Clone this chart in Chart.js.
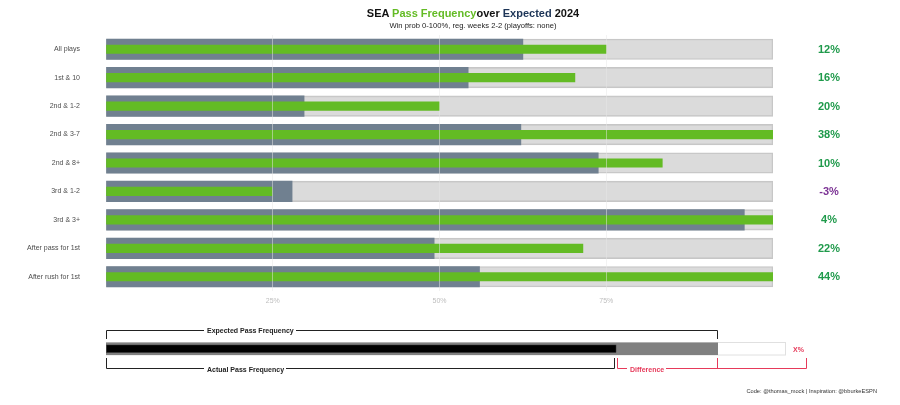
<!DOCTYPE html>
<html>
<head>
<meta charset="utf-8">
<script src="https://cdn.jsdelivr.net/npm/chart.js@4.4.1/dist/chart.umd.min.js"></script>
<style>
  html, body { margin:0; padding:0; background:#fff; }
  #wrap { position:relative; width:900px; height:405px; overflow:hidden; font-family:"Liberation Sans", Arial, sans-serif; }
  #c { position:absolute; left:0; top:0; }
  .title { position:absolute; left:473px; top:7px; transform:translateX(-50%); white-space:nowrap; font-size:11px; font-weight:bold; line-height:13px; color:#111; }
  .sub { position:absolute; left:473px; top:21px; transform:translateX(-50%); white-space:nowrap; font-size:7.6px; line-height:9px; color:#222; }
  .cap { position:absolute; right:23px; top:388px; white-space:nowrap; font-size:5.7px; line-height:7px; color:#333; }
  svg { position:absolute; left:0; top:0; pointer-events:none; }
</style>
</head>
<body>
<div id="wrap">
  <canvas id="c" width="900" height="405"></canvas>
  <div class="title">SEA <span style="color:#63bb24">Pass Frequency</span>over <span style="color:#1d3557">Expected</span> 2024</div>
  <div class="sub">Win prob 0-100%, reg. weeks 2-2 (playoffs: none)</div>
  <div class="cap">Code: @thomas_mock | Inspiration: @bburkeESPN</div>
  <svg width="900" height="405" font-family="Liberation Sans, Arial, sans-serif">
    <path d="M106.5,339 V330.5 H717.5 V339" fill="none" stroke="#222" stroke-width="1"/>
    <rect x="204" y="326" width="92" height="8" fill="#fff"/>
    <text x="207" y="332.5" font-size="7" font-weight="bold" fill="#222">Expected Pass Frequency</text>
    <rect x="106.5" y="342.5" width="679" height="12.5" fill="#fff" stroke="#e0e0e0" stroke-width="1"/>
    <rect x="106" y="342.5" width="612" height="12.5" fill="#808080"/>
    <rect x="106.5" y="345" width="509.5" height="7.5" fill="#000" stroke="#333" stroke-width="0.5"/>
    <path d="M106.5,358 V368.5 H614.5 V358" fill="none" stroke="#222" stroke-width="1"/>
    <rect x="204" y="365" width="82" height="8" fill="#fff"/>
    <text x="207" y="371.5" font-size="7" font-weight="bold" fill="#222">Actual Pass Frequency</text>
    <path d="M617.5,358 V368.5 H806.5 V358 M717.5,358 V368.5" fill="none" stroke="#e63a5a" stroke-width="1"/>
    <rect x="627" y="365" width="39" height="8" fill="#fff"/>
    <text x="630" y="371.5" font-size="7" font-weight="bold" fill="#e63a5a">Difference</text>
    <text x="793" y="351.5" font-size="7" font-weight="bold" fill="#e63a5a">X%</text>
  </svg>
</div>
<script>
const categories = ['All plays','1st & 10','2nd & 1-2','2nd & 3-7','2nd & 8+','3rd & 1-2','3rd & 3+','After pass for 1st','After rush for 1st'];
const expectedPass = [0.625, 0.543, 0.297, 0.622, 0.738, 0.279, 0.957, 0.492, 0.560];
const actualPass   = [0.750, 0.703, 0.500, 1.000, 0.834, 0.249, 1.000, 0.715, 1.000];
const fullScale    = [1, 1, 1, 1, 1, 1, 1, 1, 1];
const diffLabels   = [12, 16, 20, 38, 10, -3, 4, 22, 44];
const xTickValues  = [0.25, 0.5, 0.75];

const FONT = '"Liberation Sans", Arial, sans-serif';

const diffPlugin = {
  id: 'diffLabels',
  afterDatasetsDraw(chart) {
    const ctx = chart.ctx, y = chart.scales.y, area = chart.chartArea;
    ctx.save();
    ctx.font = 'bold 11px ' + FONT;
    ctx.textAlign = 'center';
    ctx.textBaseline = 'middle';
    diffLabels.forEach((d, i) => {
      ctx.fillStyle = d < 0 ? '#7b3294' : '#1f9a4b';
      ctx.fillText(d + '%', area.right + 56, y.getPixelForValue(i) + 0.5);
    });
    ctx.restore();
  }
};

const common = { grouped: false, categoryPercentage: 1, barPercentage: 1 };

new Chart(document.getElementById('c'), {
  type: 'bar',
  data: {
    labels: categories,
    datasets: [
      Object.assign({ label: 'Actual', data: actualPass, backgroundColor: '#63bb24', maxBarThickness: 8.5, order: 0, borderWidth: 0 }, common),
      Object.assign({ label: 'Expected', data: expectedPass, backgroundColor: '#708090', maxBarThickness: 20.5, order: 1, borderWidth: 0 }, common),
      Object.assign({ label: 'Full', data: fullScale, backgroundColor: 'rgba(205,205,205,0.72)', borderColor: '#c6c6c6', borderWidth: 1, borderSkipped: false, maxBarThickness: 20.5, order: 2 }, common)
    ]
  },
  options: {
    indexAxis: 'y',
    responsive: false,
    devicePixelRatio: 1,
    animation: false,
    layout: { padding: { left: 0, right: 127, top: 35, bottom: 94 } },
    plugins: { legend: { display: false }, tooltip: { enabled: false }, title: { display: false } },
    scales: {
      x: {
        min: 0, max: 1,
        afterFit(s) { s.height = 20; },
        afterBuildTicks(s) { s.ticks = [0, ...xTickValues, 1].map(v => ({ value: v })); },
        border: { display: false },
        grid: {
          z: 1,
          drawTicks: false,
          color: (c) => (c.tick && (c.tick.value === 0 || c.tick.value === 1)) ? 'rgba(0,0,0,0)' : 'rgba(232,232,232,0.5)',
          lineWidth: 1
        },
        ticks: {
          autoSkip: false, maxRotation: 0, padding: 6,
          color: '#bdbdbd', font: { family: FONT, size: 7 },
          callback: (v) => (v === 0 || v === 1) ? '' : Math.round(v * 100) + '%'
        }
      },
      y: {
        afterFit(s) { s.width = 106; },
        border: { display: false },
        grid: { display: false, drawTicks: false },
        ticks: { padding: 26, color: '#4d4d4d', font: { family: FONT, size: 7 } }
      }
    }
  },
  plugins: [diffPlugin]
});
</script>
</body>
</html>
